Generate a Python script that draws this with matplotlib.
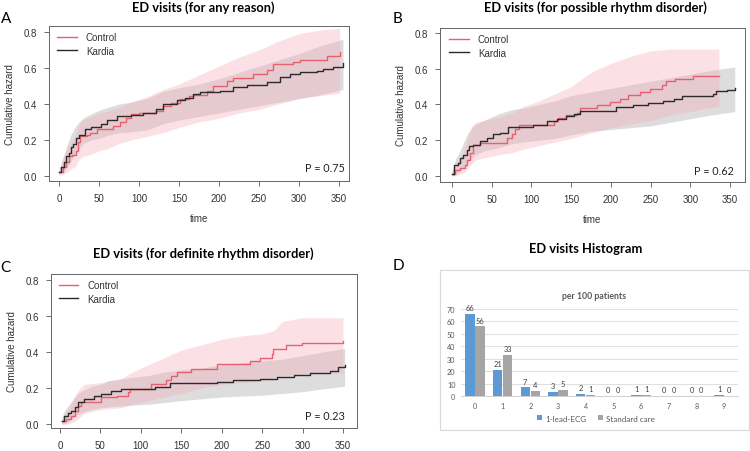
import matplotlib
matplotlib.use("Agg")
import matplotlib.pyplot as plt
from matplotlib.patches import Rectangle
import numpy as np

W, H = 750, 452

# ---------------- data ----------------
A_kardia_t = [0, 3, 6, 9, 12, 15, 18, 21, 25, 32, 40, 52, 60, 73, 90, 105, 121, 130, 147, 158,
              168, 176, 201, 218, 235, 260, 276, 289, 301, 322, 330, 343, 355]
A_kardia_h = [0.02, 0.05, 0.08, 0.11, 0.13, 0.16, 0.18, 0.21, 0.23, 0.26, 0.27, 0.29, 0.31, 0.335, 0.338,
              0.352, 0.37, 0.40, 0.42, 0.435, 0.455, 0.465, 0.474, 0.492, 0.505, 0.52, 0.548, 0.566,
              0.575, 0.585, 0.594, 0.604, 0.628]
A_control_t = [0, 5, 9, 13, 16, 21, 24, 26, 35, 39, 47, 55, 68, 76, 84, 90, 100, 121, 130, 140,
               151, 162, 168, 185, 193, 210, 218, 243, 260, 268, 293, 301, 335, 351]
A_control_h = [0.02, 0.05, 0.075, 0.11, 0.115, 0.14, 0.19, 0.22, 0.23, 0.24, 0.26, 0.26, 0.28, 0.298,
               0.32, 0.343, 0.35, 0.363, 0.39, 0.405, 0.428, 0.444, 0.45, 0.474, 0.502, 0.53, 0.543,
               0.566, 0.589, 0.622, 0.632, 0.645, 0.669, 0.687]
A_kband_t = [0, 5, 10, 15, 20, 25, 30, 40, 50, 60, 75, 90, 110, 130, 150, 175, 200, 225, 250, 275, 300, 325, 355]
A_kband_hi = [0.03, 0.10, 0.17, 0.23, 0.27, 0.30, 0.32, 0.345, 0.365, 0.38, 0.40, 0.41, 0.43, 0.47, 0.49,
              0.51, 0.54, 0.575, 0.61, 0.645, 0.68, 0.72, 0.76]
A_kband_lo = [0.01, 0.02, 0.05, 0.08, 0.12, 0.15, 0.18, 0.20, 0.21, 0.225, 0.24, 0.245, 0.255, 0.29, 0.31,
              0.33, 0.35, 0.37, 0.39, 0.41, 0.43, 0.45, 0.48]
A_cband_t = [0, 5, 10, 15, 20, 25, 30, 40, 50, 60, 75, 90, 110, 130, 150, 175, 200, 225, 250, 275, 300, 325, 351]
A_cband_hi = [0.04, 0.10, 0.16, 0.19, 0.22, 0.28, 0.31, 0.33, 0.35, 0.36, 0.38, 0.41, 0.44, 0.48, 0.51,
              0.56, 0.61, 0.66, 0.70, 0.75, 0.79, 0.81, 0.82]
A_cband_lo = [0.0, 0.01, 0.02, 0.04, 0.05, 0.09, 0.11, 0.12, 0.14, 0.15, 0.18, 0.20, 0.22, 0.24, 0.27,
              0.30, 0.32, 0.35, 0.37, 0.40, 0.43, 0.445, 0.46]

B_kardia_t = [0, 2.5, 8, 10, 14, 18.5, 21, 27, 35, 44, 52, 60, 71, 102, 119, 132, 144, 153, 161, 207,
              228, 247, 266, 279, 289, 329, 333, 346, 356]
B_kardia_h = [0.011, 0.063, 0.072, 0.10, 0.119, 0.147, 0.166, 0.175, 0.198, 0.213, 0.232, 0.241, 0.273,
              0.287, 0.31, 0.321, 0.334, 0.347, 0.366, 0.384, 0.395, 0.408, 0.422, 0.433, 0.446,
              0.459, 0.473, 0.483, 0.492]
B_control_t = [0, 4, 10, 16, 19, 23, 27, 35, 69, 75, 79, 84, 128, 134, 144, 157, 161, 182, 199, 212,
               222, 237, 249, 264, 269, 281, 304, 336]
B_control_h = [0.011, 0.035, 0.045, 0.063, 0.09, 0.129, 0.175, 0.184, 0.213, 0.232, 0.26, 0.284, 0.306,
               0.325, 0.339, 0.352, 0.38, 0.399, 0.414, 0.433, 0.451, 0.47, 0.487, 0.507, 0.529,
               0.544, 0.557, 0.557]
B_kband_t = [0, 5, 10, 15, 20, 25, 30, 40, 50, 60, 75, 90, 110, 130, 150, 175, 200, 225, 250, 275, 300, 325, 356]
B_kband_hi = [0.03, 0.10, 0.14, 0.19, 0.24, 0.27, 0.29, 0.31, 0.33, 0.35, 0.37, 0.38, 0.40, 0.42, 0.45,
              0.47, 0.49, 0.51, 0.53, 0.55, 0.57, 0.59, 0.61]
B_kband_lo = [0.0, 0.01, 0.03, 0.05, 0.08, 0.10, 0.12, 0.14, 0.15, 0.16, 0.18, 0.19, 0.20, 0.21, 0.23,
              0.25, 0.26, 0.27, 0.28, 0.30, 0.32, 0.34, 0.36]
B_cband_t = [0, 5, 10, 15, 20, 25, 30, 40, 50, 60, 75, 90, 110, 130, 150, 175, 200, 225, 250, 275, 300, 320, 336]
B_cband_hi = [0.03, 0.07, 0.10, 0.14, 0.21, 0.28, 0.30, 0.31, 0.32, 0.33, 0.35, 0.39, 0.42, 0.46, 0.50,
              0.58, 0.63, 0.67, 0.70, 0.71, 0.71, 0.71, 0.71]
B_cband_lo = [0.0, 0.0, 0.01, 0.02, 0.04, 0.07, 0.09, 0.10, 0.11, 0.12, 0.13, 0.15, 0.17, 0.19, 0.21,
              0.24, 0.27, 0.29, 0.31, 0.34, 0.36, 0.38, 0.39]

C_kardia_t = [2, 5, 10, 14, 18, 22, 30, 42, 51, 63, 75, 117, 136, 194, 214, 247, 268, 289, 309, 334, 344, 352]
C_kardia_h = [0.019, 0.046, 0.06, 0.074, 0.095, 0.12, 0.139, 0.157, 0.167, 0.185, 0.194, 0.207, 0.226,
              0.235, 0.244, 0.252, 0.263, 0.272, 0.281, 0.292, 0.315, 0.325]
C_control_t = [2, 7, 14, 18, 22, 26, 51, 71, 84, 86, 112, 131, 137, 145, 162, 194, 235, 247, 262, 264,
               280, 299, 350]
C_control_h = [0.019, 0.03, 0.046, 0.07, 0.102, 0.124, 0.148, 0.157, 0.176, 0.194, 0.222, 0.244, 0.269,
               0.287, 0.306, 0.333, 0.348, 0.367, 0.389, 0.417, 0.44, 0.45, 0.459]
C_kband_t = [2, 5, 10, 15, 20, 25, 30, 40, 50, 60, 75, 90, 110, 130, 150, 175, 200, 225, 250, 275, 300, 325, 352]
C_kband_hi = [0.03, 0.07, 0.10, 0.13, 0.16, 0.18, 0.19, 0.21, 0.22, 0.24, 0.25, 0.26, 0.27, 0.29, 0.30,
              0.31, 0.33, 0.34, 0.35, 0.36, 0.38, 0.40, 0.42]
C_kband_lo = [0.0, 0.0, 0.01, 0.03, 0.05, 0.06, 0.07, 0.08, 0.09, 0.095, 0.10, 0.105, 0.11, 0.12, 0.13,
              0.14, 0.15, 0.155, 0.16, 0.17, 0.18, 0.195, 0.21]
C_cband_t = [2, 5, 10, 15, 20, 25, 30, 40, 50, 60, 75, 90, 110, 130, 150, 175, 200, 225, 250, 265, 275,
             300, 325, 350]
C_cband_hi = [0.03, 0.05, 0.08, 0.12, 0.17, 0.20, 0.22, 0.225, 0.23, 0.24, 0.25, 0.29, 0.33, 0.37, 0.41,
              0.44, 0.47, 0.49, 0.50, 0.52, 0.57, 0.59, 0.59, 0.59]
C_cband_lo = [0.0, 0.0, 0.0, 0.01, 0.02, 0.04, 0.06, 0.07, 0.08, 0.085, 0.09, 0.11, 0.13, 0.15, 0.17,
              0.20, 0.22, 0.23, 0.24, 0.26, 0.27, 0.28, 0.28, 0.28]

p_values = ["P = 0.75", "P = 0.62", "P = 0.23"]
titles = ["ED visits (for any reason)", "ED visits (for possible rhythm disorder)",
          "ED visits (for definite rhythm disorder)", "ED visits Histogram"]
series_names = ["Control", "Kardia"]

hist_cats = ["0", "1", "2", "3", "4", "5", "6", "7", "8", "9"]
hist_ecg = [66, 21, 7, 3, 1.5, 0, 0.6, 0, 0, 0.6]
hist_std = [56, 33, 4, 5, 1, 0, 1, 0, 0, 0]
hist_names = ["1-lead-ECG", "Standard care"]

# ---------------- style ----------------
RED = "#e8606e"
BLACK = "#2b2b2b"
PINK_FILL = "#f4a9b8"
GRAY_FILL = "#a8a8a8"
TICKC = "#333333"
TITLE_FONT = ["Lato", "DejaVu Sans"]
R_FONT = ["Liberation Sans", "DejaVu Sans"]

fig = plt.figure(figsize=(W / 100, H / 100), dpi=100)


def add_ax(l, t, r, b):
    return fig.add_axes([l / W, 1 - b / H, (r - l) / W, (b - t) / H])


def ftext(x, y, s, **kw):
    fig.text(x / W, 1 - y / H, s, **kw)


def km_panel(box, xlim, ylim, kt, kh, ct, ch, kb, cb, pval, ptxt_pos, leg_anchor, xlabel=True):
    ax = add_ax(*box)
    ax.fill_between(kb[0], kb[1], kb[2], color=GRAY_FILL, alpha=0.38, lw=0)
    ax.fill_between(cb[0], cb[1], cb[2], color=PINK_FILL, alpha=0.35, lw=0)
    ax.step(ct, ch, where="post", color=RED, lw=1.0, label=series_names[0])
    ax.step(kt, kh, where="post", color=BLACK, lw=1.0, label=series_names[1])
    ax.set_xlim(*xlim)
    ax.set_ylim(*ylim)
    ax.set_xticks([0, 50, 100, 150, 200, 250, 300, 350])
    ax.set_yticks([0.0, 0.2, 0.4, 0.6, 0.8])
    ax.set_yticklabels(["0.0", "0.2", "0.4", "0.6", "0.8"])
    ax.tick_params(length=3.5, width=0.6, colors="#555555", labelcolor=TICKC,
                   labelsize=7, pad=5)
    for lab in ax.get_xticklabels() + ax.get_yticklabels():
        lab.set_family(R_FONT)
    for sp in ax.spines.values():
        sp.set_color("#666666")
        sp.set_linewidth(0.7)
    ax.set_ylabel("Cumulative hazard", fontsize=7, family=R_FONT, color=TICKC, labelpad=6)
    if xlabel:
        ax.set_xlabel("time", fontsize=7, family=R_FONT, color=TICKC, labelpad=7)
    leg = ax.legend(loc="upper left", bbox_to_anchor=leg_anchor, frameon=False,
                    prop={"family": R_FONT, "size": 7}, handlelength=2.0,
                    handletextpad=0.95, labelspacing=0.38, borderpad=0, borderaxespad=0)
    for txt in leg.get_texts():
        txt.set_color(TICKC)
    ax.text(ptxt_pos[0], ptxt_pos[1], pval, transform=ax.transAxes, ha="right", va="center",
            fontsize=7.8, family=TITLE_FONT, color="#222222")
    return ax


# Panel A
km_panel((49, 27, 349, 182), (-12.5, 362.5), (-0.028, 0.833),
         A_kardia_t, A_kardia_h, A_control_t, A_control_h,
         (A_kband_t, A_kband_lo, A_kband_hi), (A_cband_t, A_cband_lo, A_cband_hi),
         p_values[0], (0.987, 0.084), (0.027, 0.96))
# Panel B
km_panel((440, 29, 745, 183), (-15.1, 368.9), (-0.034, 0.828),
         B_kardia_t, B_kardia_h, B_control_t, B_control_h,
         (B_kband_t, B_kband_lo, B_kband_hi), (B_cband_t, B_cband_lo, B_cband_hi),
         p_values[1], (0.965, 0.073), (0.03, 0.96))
# Panel C
km_panel((51, 275, 357, 429), (-11.1, 367.3), (-0.022, 0.833),
         C_kardia_t, C_kardia_h, C_control_t, C_control_h,
         (C_kband_t, C_kband_lo, C_kband_hi), (C_cband_t, C_cband_lo, C_cband_hi),
         p_values[2], (0.961, 0.08), (0.026, 0.96), xlabel=False)

# Titles and letters
TS = 9.3
ftext(203, 8, titles[0], ha="center", va="center", fontsize=TS, weight="bold", family=TITLE_FONT)
ftext(595, 8, titles[1], ha="center", va="center", fontsize=TS, weight="bold", family=TITLE_FONT)
ftext(203, 254, titles[2], ha="center", va="center", fontsize=TS, weight="bold", family=TITLE_FONT)
ftext(586, 249, titles[3], ha="center", va="center", fontsize=TS, weight="bold", family=TITLE_FONT)
for (x, y, s) in [(1, 19, "A"), (393, 19, "B"), (0, 268, "C"), (393, 266, "D")]:
    ftext(x, y, s, ha="left", va="center", fontsize=11, family=TITLE_FONT)

# Panel D frame
fig.patches.append(Rectangle((440 / W, 1 - 431 / H), 309 / W, 160 / H, transform=fig.transFigure,
                             fill=False, edgecolor="#d9d9d9", lw=0.8))
ftext(594, 297, "per 100 patients", ha="center", va="center", fontsize=6.3, weight="bold",
      family=TITLE_FONT, color="#595959")

axd = add_ax(461, 310, 738, 397)
x = np.arange(len(hist_cats))
bw = 0.34
b1 = axd.bar(x - 0.18, hist_ecg, bw, color="#5b9bd5", label=hist_names[0], zorder=3)
b2 = axd.bar(x + 0.18, hist_std, bw, color="#a5a5a5", label=hist_names[1], zorder=3)
axd.bar_label(b1, fmt="%.0f", fontsize=5.4, color="#404040", padding=2, family=TITLE_FONT)
axd.bar_label(b2, fmt="%.0f", fontsize=5.4, color="#404040", padding=2, family=TITLE_FONT)
axd.set_xlim(-0.5, 9.5)
axd.set_ylim(0, 70)
axd.set_yticks(range(0, 71, 10))
axd.set_xticks(x)
axd.set_xticklabels(hist_cats)
axd.yaxis.grid(True, color="#d9d9d9", lw=0.6, zorder=0)
axd.set_axisbelow(True)
for s in ["left", "right", "top"]:
    axd.spines[s].set_visible(False)
axd.spines["bottom"].set_color("#d0d0d0")
axd.spines["bottom"].set_linewidth(0.7)
axd.tick_params(length=0, labelsize=5.2, labelcolor="#595959", pad=4)
for lab in axd.get_xticklabels() + axd.get_yticklabels():
    lab.set_family(TITLE_FONT)
legd = axd.legend(loc="center", bbox_to_anchor=(596 / W, 1 - 419 / H), bbox_transform=fig.transFigure,
                  ncol=2, frameon=False, prop={"family": TITLE_FONT, "size": 5.8},
                  handlelength=0.6, handleheight=0.6, handletextpad=0.4, columnspacing=1.4)
for txt in legd.get_texts():
    txt.set_color("#595959")

fig.savefig("out.png", dpi=100)
